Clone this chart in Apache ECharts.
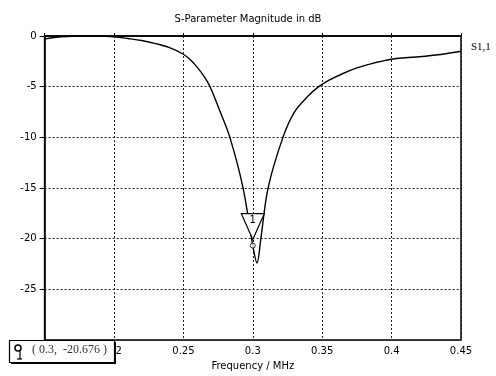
<!DOCTYPE html>
<html><head><meta charset="utf-8">
<script src="https://cdn.jsdelivr.net/npm/echarts@6/dist/echarts.min.js"></script>
<style>html,body{margin:0;padding:0;background:#fff}#c{width:496px;height:376px}</style>
</head><body><div id="c"></div>
<script>
const titleText = 'S-Parameter Magnitude in dB';
const xAxisName = 'Frequency / MHz';
const seriesName = 'S1,1';
const freq = [0.15,0.16,0.17,0.18,0.19,0.2,0.21,0.22,0.23,0.24,0.25,0.255,0.26,0.265,0.2692,0.276,0.2835,0.293,0.3,0.303,0.3058,0.311,0.3217,0.33,0.34,0.3475,0.355,0.365,0.375,0.385,0.4,0.41,0.42,0.43,0.44,0.45];
const s11 = [-0.3,-0.1,-0.02,0,0,-0.08,-0.25,-0.45,-0.75,-1.15,-1.8,-2.35,-3.1,-4.0,-5,-7.3,-10,-15,-20.68,-22.4,-20,-15,-10,-7.5,-5.9,-5,-4.35,-3.7,-3.15,-2.75,-2.3,-2.15,-2.05,-1.9,-1.72,-1.5];
const markerX = [0.3];
const markerY = [-20.676];
const markerLabel = ['1'];

const chart = echarts.init(document.getElementById('c'), null, {renderer:'canvas'});
const font = 'DejaVu Sans';
const Z = 100;
chart.setOption({
  animation:false,
  backgroundColor:'#fff',
  title:{text:titleText,left:'center',top:9,textStyle:{fontFamily:font,fontSize:10,fontWeight:'normal',color:'#000'}},
  grid:{left:44.6,right:35,top:36,bottom:33,show:true,borderColor:'#000',borderWidth:1.5,backgroundColor:'transparent'},
  xAxis:{type:'value',min:0.15,max:0.45,interval:0.05,
    name:xAxisName,nameLocation:'middle',nameGap:18,nameTextStyle:{fontFamily:font,fontSize:10,color:'#000'},
    axisLine:{show:true,lineStyle:{color:'#000',width:1.5}},
    axisTick:{show:true,inside:true,length:3,lineStyle:{color:'#000'}},
    axisLabel:{fontFamily:font,fontSize:10,color:'#000',margin:6,formatter:v=>String(+v.toFixed(2))},
    splitLine:{show:true,lineStyle:{color:'#222',type:[2,2],width:1}}},
  yAxis:{type:'value',min:-30,max:0,interval:5,
    axisLine:{show:true,lineStyle:{color:'#000',width:1.5}},
    axisTick:{show:true,length:5,lineStyle:{color:'#000'}},
    axisLabel:{fontFamily:font,fontSize:10,color:'#000',margin:8,formatter:v=>v===-30?'':String(v)},
    splitLine:{show:true,lineStyle:{color:'#222',type:[2,2],width:1}}},
  series:[
    {type:'line',name:seriesName,data:freq.map((f,i)=>[f,s11[i]]),smooth:0.35,
      symbol:'none',lineStyle:{color:'#000',width:1.4},z:3,
      endLabel:{show:true,formatter:seriesName,fontFamily:'Liberation Serif',fontSize:11,color:'#000',distance:10,offset:[0,-4]}},
    {type:'scatter',data:markerX.map((x,i)=>[x,markerY[i]]),symbol:'circle',symbolSize:5,
      itemStyle:{color:'#fff',borderColor:'#000',borderWidth:1},z:5,
      markPoint:{symbol:'path://M0,0 L20,0 L10,22 Z',symbolSize:[23,26],symbolOffset:[0,-19],
        itemStyle:{color:'#fff',borderColor:'#000',borderWidth:1.2},
        label:{show:true,formatter:markerLabel[0],fontFamily:font,fontSize:10,color:'#000',offset:[0,-6]},
        data:markerX.map((x,i)=>({coord:[x,markerY[i]]}))}}
  ],
  graphic:[
    {type:'rect',z:Z,shape:{x:11,y:342,width:105,height:22},style:{fill:'#000'}},
    {type:'rect',z:Z+1,shape:{x:9.5,y:340.5,width:105,height:22},style:{fill:'#fff',stroke:'#000',lineWidth:1.2}},
    {type:'circle',z:Z+2,shape:{cx:18,cy:348,r:3},style:{fill:'none',stroke:'#000',lineWidth:1.5}},
    {type:'line',z:Z+2,shape:{x1:20,y1:350,x2:20,y2:359},style:{stroke:'#000',lineWidth:1.2}},
    {type:'line',z:Z+2,shape:{x1:17,y1:359,x2:22,y2:359},style:{stroke:'#000',lineWidth:1.2}},
    {type:'text',z:Z+2,style:{x:32,y:344,text:'( '+markerX[0]+',  '+markerY[0]+' )',font:'12px "Liberation Serif"',fill:'#333'}}
  ]
});
</script></body></html>
